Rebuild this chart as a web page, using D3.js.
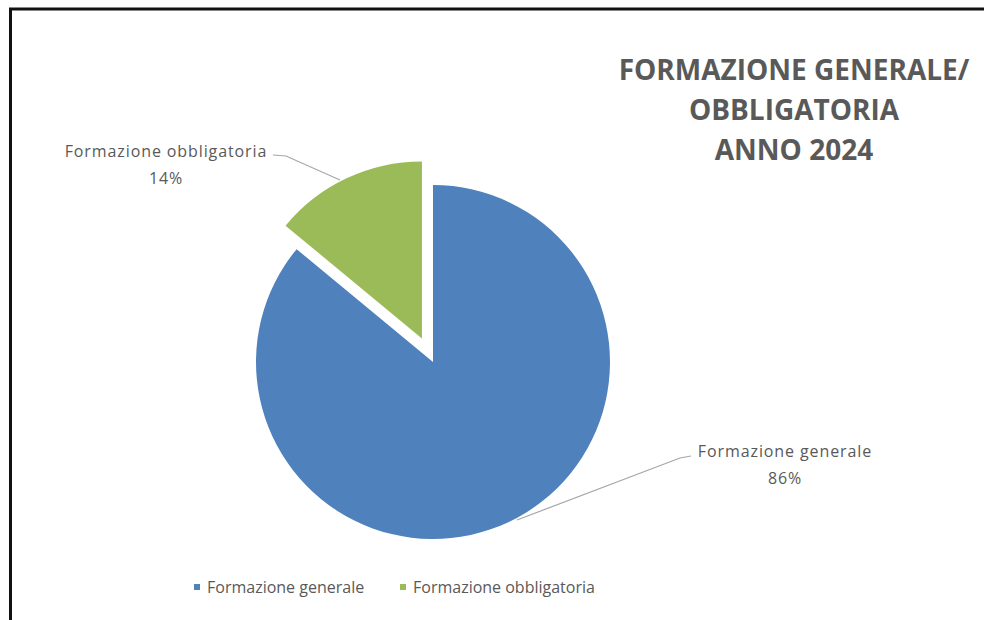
<!DOCTYPE html>
<html>
<head>
<meta charset="utf-8">
<script src="https://cdn.jsdelivr.net/npm/d3@7"></script>
<style>
  body { margin: 0; background: #fff; }
  svg { display: block; }
  text { font-family: "Open Sans", "Liberation Sans", sans-serif; fill: #595959; }
</style>
</head>
<body>
<div id="chart"></div>
<script>
var categories = ["Formazione generale", "Formazione obbligatoria"];
var values = [86, 14];
var colors = ["#4f81bd", "#9bbb59"];
var titleLines = ["FORMAZIONE GENERALE/", "OBBLIGATORIA", "ANNO 2024"];

var width = 984, height = 620;

var svg = d3.select("#chart")
  .append("svg")
    .attr("width", width)
    .attr("height", height);

// frame (left and top edges of the picture)
svg.append("rect")
  .attr("x", 10.5).attr("y", 9)
  .attr("width", 990).attr("height", 640)
  .attr("fill", "#fff")
  .attr("stroke", "#111")
  .attr("stroke-width", 3);

// title
svg.append("text")
  .attr("x", 794)
  .attr("y", 80)
  .attr("text-anchor", "middle")
  .style("font-size", "28px")
  .style("font-weight", "bold")
  .selectAll("tspan")
  .data(titleLines)
  .join("tspan")
    .attr("x", 794)
    .attr("dy", (d, i) => i === 0 ? 0 : 40)
    .text(d => d);

// pie
var cx = 433, cy = 362, radius = 177, explode = 26;

var data = categories.map((c, i) => ({name: c, value: values[i], color: colors[i]}));

var pie = d3.pie().sort(null).value(d => d.value);
var arcs = pie(data);
var arc = d3.arc().innerRadius(0).outerRadius(radius);

var g = svg.append("g").attr("transform", "translate(" + cx + "," + cy + ")");

g.selectAll("path")
  .data(arcs)
  .join("path")
    .attr("d", arc)
    .attr("fill", d => d.data.color)
    .attr("transform", d => {
      if (d.index !== 1) return null;
      var mid = (d.startAngle + d.endAngle) / 2;
      return "translate(" + (Math.sin(mid) * explode) + "," + (-Math.cos(mid) * explode) + ")";
    });

// data labels with leader lines
var labels = [
  {i: 0, x: 785, y: 457, line: [[517, 520], [680, 458], [691, 456]]},
  {i: 1, x: 166, y: 157, line: [[340, 180], [286, 156], [273, 155]]}
];

svg.selectAll(".leader")
  .data(labels)
  .join("polyline")
    .attr("class", "leader")
    .attr("points", d => d.line.map(p => p.join(",")).join(" "))
    .attr("fill", "none")
    .attr("stroke", "#a6a6a6")
    .attr("stroke-width", 1.2);

var lab = svg.selectAll(".lab")
  .data(labels)
  .join("text")
    .attr("class", "lab")
    .attr("text-anchor", "middle")
    .style("font-size", "16px")
    .style("letter-spacing", "0.9px");
lab.append("tspan")
  .attr("x", d => d.x).attr("y", d => d.y)
  .text(d => categories[d.i]);
lab.append("tspan")
  .attr("x", d => d.x).attr("dy", 27)
  .text(d => d3.format(".0%")(values[d.i] / d3.sum(values)));

// legend
var legendX = [197, 403];
var leg = svg.selectAll(".leg")
  .data(data)
  .join("g")
    .attr("class", "leg")
    .attr("transform", (d, i) => "translate(" + legendX[i] + ",587)");
leg.append("rect")
  .attr("x", -3).attr("y", -3)
  .attr("width", 6).attr("height", 6)
  .attr("fill", d => d.color);
leg.append("text")
  .attr("x", 10).attr("y", 5.5)
  .style("font-size", "16px")
  .text(d => d.name);
</script>
</body>
</html>
